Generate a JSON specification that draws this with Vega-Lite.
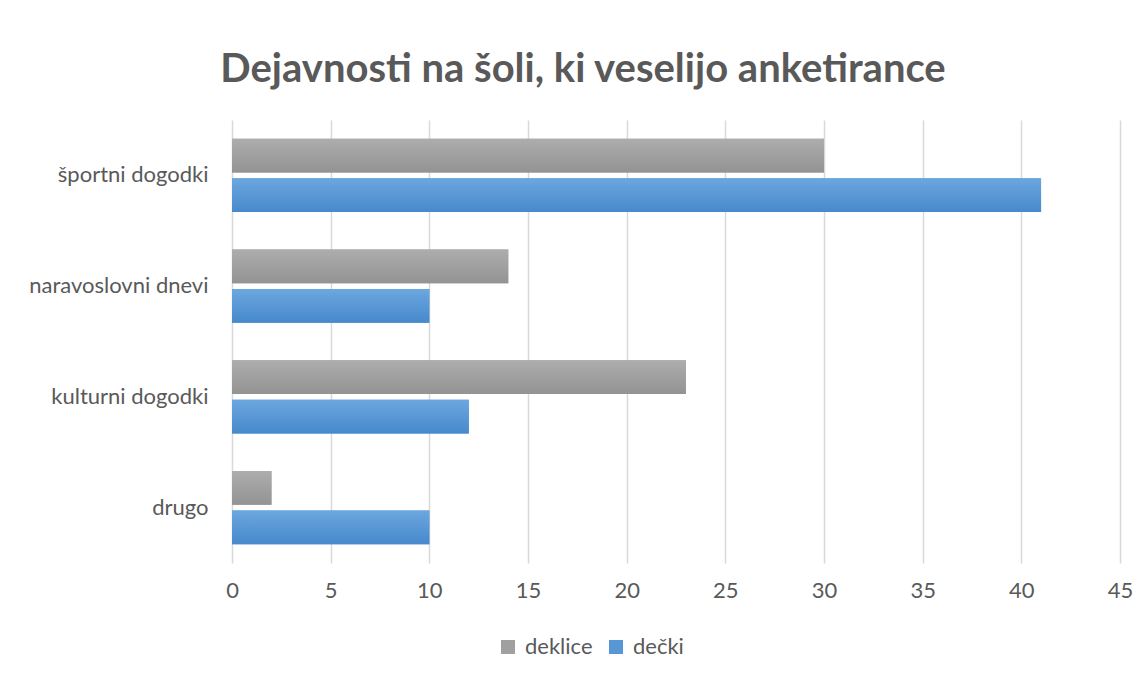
{
  "$schema": "https://vega.github.io/schema/vega-lite/v6.json",
  "width": 888,
  "height": 443,
  "autosize": {"type": "none"},
  "padding": {"left": 232, "top": 120, "right": 28, "bottom": 114},
  "background": "white",
  "title": {
    "text": "Dejavnosti na šoli, ki veselijo anketirance",
    "font": "Lato",
    "fontSize": 40,
    "fontWeight": "bold",
    "color": "#595959",
    "anchor": "middle",
    "dx": -93,
    "offset": 30
  },
  "data": {
    "values": [
      {"kategorija": "športni dogodki", "skupina": "deklice", "vrednost": 30},
      {"kategorija": "športni dogodki", "skupina": "dečki", "vrednost": 41},
      {"kategorija": "naravoslovni dnevi", "skupina": "deklice", "vrednost": 14},
      {"kategorija": "naravoslovni dnevi", "skupina": "dečki", "vrednost": 10},
      {"kategorija": "kulturni dogodki", "skupina": "deklice", "vrednost": 23},
      {"kategorija": "kulturni dogodki", "skupina": "dečki", "vrednost": 12},
      {"kategorija": "drugo", "skupina": "deklice", "vrednost": 2},
      {"kategorija": "drugo", "skupina": "dečki", "vrednost": 10}
    ]
  },
  "encoding": {
    "y": {
      "field": "kategorija",
      "type": "nominal",
      "sort": ["športni dogodki", "naravoslovni dnevi", "kulturni dogodki", "drugo"],
      "scale": {"paddingInner": 0.34, "paddingOuter": 0.17},
      "axis": {
        "title": null,
        "ticks": false,
        "domain": false,
        "labelFont": "Lato",
        "labelFontSize": 22,
        "labelColor": "#595959",
        "labelPadding": 24
      }
    },
    "yOffset": {
      "field": "skupina",
      "type": "nominal",
      "sort": ["deklice", "dečki"],
      "scale": {"paddingInner": 0.14}
    },
    "x": {
      "field": "vrednost",
      "type": "quantitative",
      "scale": {"domain": [0, 45], "nice": false},
      "axis": {
        "title": null,
        "values": [0, 5, 10, 15, 20, 25, 30, 35, 40, 45],
        "ticks": false,
        "domain": false,
        "grid": true,
        "gridColor": "#d9d9d9",
        "gridWidth": 1.5,
        "labelFlush": false,
        "labelFont": "Lato",
        "labelFontSize": 22,
        "labelColor": "#595959",
        "labelPadding": 17
      }
    }
  },
  "layer": [
    {
      "mark": {"type": "bar"},
      "encoding": {
        "color": {
          "field": "skupina",
          "type": "nominal",
          "sort": ["deklice", "dečki"],
          "scale": {"domain": ["deklice", "dečki"], "range": ["#a0a0a0", "#5797d6"]},
          "legend": {
            "title": null,
            "orient": "none",
            "direction": "horizontal",
            "legendX": 265,
            "legendY": 516,
            "symbolType": "square",
            "symbolSize": 196,
            "symbolOpacity": 1,
            "symbolStrokeWidth": 0,
            "labelFont": "Lato",
            "labelFontSize": 22,
            "labelColor": "#595959",
            "labelOffset": 6,
            "columnPadding": 12
          }
        }
      }
    },
    {
      "transform": [{"filter": "datum.skupina === 'deklice'"}],
      "mark": {
        "type": "bar",
        "color": {
          "gradient": "linear", "x1": 0, "y1": 0, "x2": 0, "y2": 1,
          "stops": [{"offset": 0, "color": "#adadad"}, {"offset": 1, "color": "#939393"}]
        }
      }
    },
    {
      "transform": [{"filter": "datum.skupina === 'dečki'"}],
      "mark": {
        "type": "bar",
        "color": {
          "gradient": "linear", "x1": 0, "y1": 0, "x2": 0, "y2": 1,
          "stops": [{"offset": 0, "color": "#6ca7df"}, {"offset": 1, "color": "#4789cc"}]
        }
      }
    }
  ],
  "config": {"view": {"stroke": null}}
}
